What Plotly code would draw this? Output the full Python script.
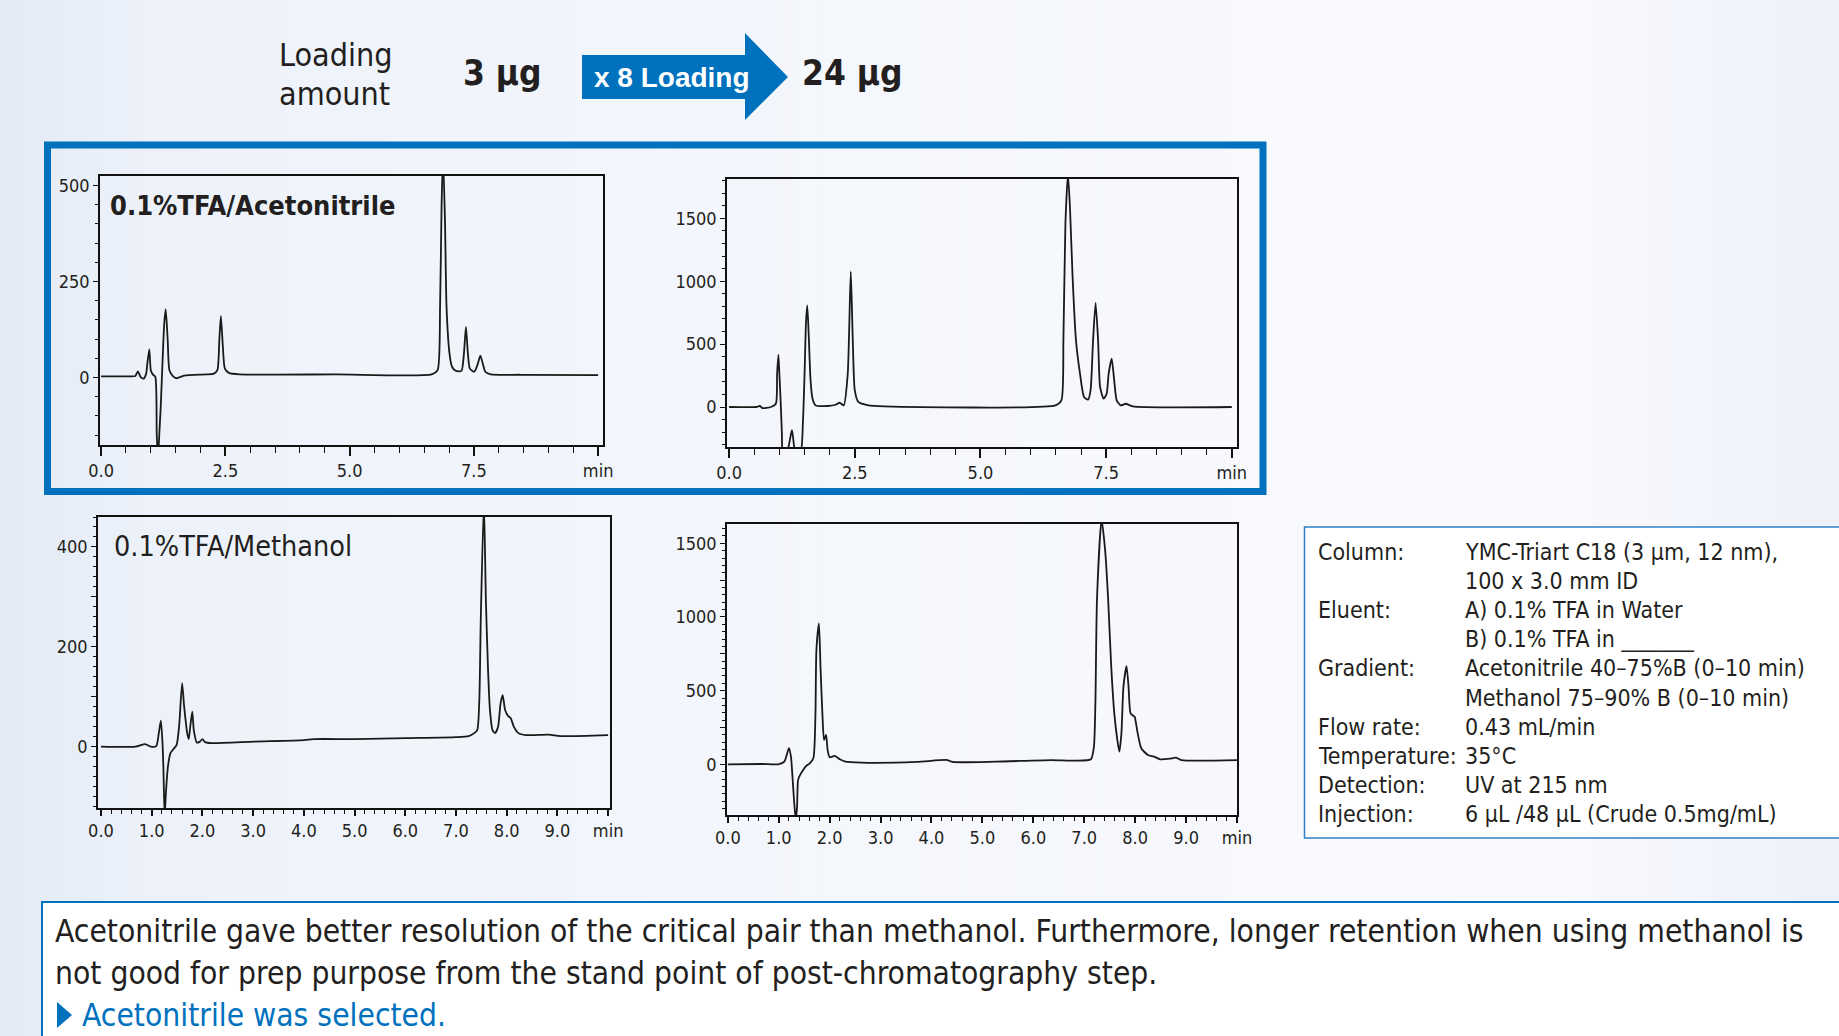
import plotly.graph_objects as go

W, H = 1839, 1036

# ---- chromatogram traces: (retention time [min], detector response) ----
acn_3ug = [
    (0.00, 3), (0.60, 3), (0.69, 4), (0.74, 16), (0.80, 0), (0.855, -3), (0.907, 10),
    (0.93, 36), (0.97, 73), (1.00, 19), (1.04, 8), (1.09, 2), (1.12, -150), (1.145, -210),
    (1.17, -150), (1.20, -76), (1.24, 54), (1.27, 140), (1.30, 178), (1.34, 97), (1.375, 19),
    (1.45, 3), (1.52, -2), (1.67, 5), (2.12, 8), (2.27, 10), (2.34, 19), (2.38, 100),
    (2.41, 160), (2.45, 80), (2.49, 23), (2.57, 12), (2.79, 8), (4.72, 8), (6.65, 8),
    (6.77, 19), (6.82, 184), (6.85, 444), (6.88, 580), (6.92, 401), (6.95, 184), (7.01, 62),
    (7.06, 28), (7.14, 17), (7.25, 17), (7.30, 62), (7.34, 132), (7.38, 62), (7.42, 23),
    (7.51, 15), (7.58, 36), (7.63, 57), (7.68, 36), (7.73, 15), (7.84, 8), (8.44, 7),
    (10.0, 6),
]
acn_24ug = [
    (0.00, 0), (0.54, 0), (0.61, 8), (0.66, -8), (0.83, 0), (0.93, 26), (0.955, 265),
    (0.98, 416), (1.00, 265), (1.03, 0), (1.05, -212), (1.07, -360), (1.15, -360),
    (1.25, -185), (1.32, -360), (1.42, -360), (1.47, -100), (1.50, 250), (1.53, 680),
    (1.555, 808), (1.585, 560), (1.62, 212), (1.66, 66), (1.72, 13), (1.96, 8), (2.12, 18),
    (2.20, 34), (2.28, 13), (2.36, 265), (2.42, 1078), (2.46, 530), (2.50, 132), (2.57, 40),
    (2.77, 13), (3.09, 5), (6.49, 13), (6.61, 53), (6.65, 530), (6.69, 1458), (6.74, 1850),
    (6.78, 1590), (6.83, 1060), (6.90, 530), (6.98, 265), (7.06, 80), (7.14, 58), (7.19, 132),
    (7.24, 530), (7.29, 827), (7.34, 530), (7.38, 159), (7.45, 66), (7.51, 106), (7.55, 265),
    (7.61, 384), (7.66, 212), (7.71, 53), (7.79, 13), (7.89, 26), (8.03, 5), (10.0, 0),
]
meoh_3ug = [
    (0.00, 0), (0.68, 0), (0.87, 5), (0.98, 0), (1.09, 1), (1.14, 27), (1.18, 52), (1.21, 13),
    (1.23, -40), (1.255, -140), (1.28, -93), (1.32, -40), (1.37, -13), (1.43, -5), (1.49, 3),
    (1.54, 40), (1.60, 127), (1.64, 80), (1.70, 27), (1.73, 15), (1.76, 40), (1.80, 70),
    (1.83, 33), (1.89, 8), (1.95, 10), (2.00, 15), (2.05, 9), (2.19, 7), (3.02, 10),
    (4.00, 13), (4.19, 15), (5.00, 15), (6.02, 17), (7.00, 19), (7.25, 21), (7.36, 27),
    (7.42, 33), (7.46, 93), (7.49, 260), (7.55, 490), (7.59, 293), (7.63, 160), (7.67, 73),
    (7.72, 33), (7.77, 27), (7.83, 40), (7.88, 87), (7.92, 103), (7.97, 73), (8.03, 61),
    (8.08, 57), (8.14, 40), (8.23, 27), (8.38, 23), (8.83, 24), (9.06, 21), (10.0, 23),
]
meoh_24ug = [
    (0.00, 0), (0.68, 2), (0.99, 0), (1.11, 18), (1.20, 109), (1.24, 52), (1.27, -84),
    (1.30, -242), (1.335, -380), (1.36, -287), (1.38, -106), (1.42, -72), (1.48, -38),
    (1.54, -11), (1.61, 7), (1.68, 41), (1.72, 323), (1.74, 776), (1.79, 957), (1.82, 663),
    (1.86, 323), (1.89, 165), (1.93, 199), (1.96, 97), (2.00, 48), (2.10, 57), (2.20, 34),
    (2.31, 18), (2.62, 11), (3.71, 16), (4.31, 29), (4.41, 16), (5.26, 18), (6.35, 29),
    (6.82, 25), (7.13, 34), (7.19, 120), (7.22, 437), (7.25, 1115), (7.34, 1660),
    (7.41, 1454), (7.47, 1115), (7.53, 663), (7.59, 346), (7.65, 165), (7.69, 86),
    (7.73, 210), (7.77, 527), (7.83, 667), (7.87, 527), (7.91, 346), (7.97, 328), (7.99, 323),
    (8.05, 210), (8.12, 109), (8.25, 63), (8.37, 52), (8.49, 34), (8.68, 38), (8.80, 45),
    (8.91, 29), (10.0, 29),
]

# ---- tick labels ----
acn_x_ticks = [0, 2.5, 5, 7.5, 10]
acn_x_text = ["0.0", "2.5", "5.0", "7.5", "min"]
meoh_x_ticks = [0, 1, 2, 3, 4, 5, 6, 7, 8, 9, 10]
meoh_x_text = ["0.0", "1.0", "2.0", "3.0", "4.0", "5.0", "6.0", "7.0", "8.0", "9.0", "min"]
acn_3ug_y_ticks = [0, 250, 500]
acn_24ug_y_ticks = [0, 500, 1000, 1500]
meoh_3ug_y_ticks = [0, 100, 200, 300, 400]
meoh_3ug_y_text = ["0", "", "200", "", "400"]
meoh_24ug_y_ticks = [0, 250, 500, 750, 1000, 1250, 1500]
meoh_24ug_y_text = ["0", "", "500", "", "1000", "", "1500"]

# ---- text ----
loading_label = ["Loading", "amount"]
loading_low = "3 µg"
loading_high = "24 µg"
loading_factor = "x 8 Loading"
title_acn = "0.1%TFA/Acetonitrile"
title_meoh = "0.1%TFA/Methanol"
info_labels = ["Column:", "", "Eluent:", "", "Gradient:", "", "Flow rate:",
               "Temperature:", "Detection:", "Injection:"]
info_values = ["YMC-Triart C18 (3 µm, 12 nm),", "100 x 3.0 mm ID", "A) 0.1% TFA in Water",
               "B) 0.1% TFA in _______", "Acetonitrile 40–75%B (0–10 min)",
               "Methanol 75–90% B (0–10 min)", "0.43 mL/min", "35°C", "UV at 215 nm",
               "6 µL /48 µL (Crude 0.5mg/mL)"]
conclusion = [
    "Acetonitrile gave better resolution of the critical pair than methanol. "
    "Furthermore, longer retention when using methanol is",
    "not good for prep purpose from the stand point of post-chromatography step.",
]
selection = "Acetonitrile was selected."

NARROW = "DejaVu Sans Condensed, DejaVu Sans, sans-serif"
WIDE = "Liberation Sans, Arial, Helvetica, sans-serif"
INK = "#231f20"
BLUE = "#0071bc"


def fx(px):
    return px / W


def fy(py):
    return 1 - py / H


fig = go.Figure()

# panel boxes in pixels: (x0, x1, y_top, y_bottom), axis ranges and ticks
panels = [
    dict(data=acn_3ug, box=(100, 603, 176, 445), xr=[-0.022, 10.098], yr=[-176, 525],
         xt=acn_x_ticks, xtt=acn_x_text, xminor=0.5, xlen=9, xminlen=6,
         yt=acn_3ug_y_ticks, ytt=[str(v) for v in acn_3ug_y_ticks], yminor=50),
    dict(data=acn_24ug, box=(727, 1237, 179, 447), xr=[-0.042, 10.103], yr=[-318, 1813],
         xt=acn_x_ticks, xtt=acn_x_text, xminor=0.5, xlen=9, xminlen=6,
         yt=acn_24ug_y_ticks, ytt=[str(v) for v in acn_24ug_y_ticks], yminor=100),
    dict(data=meoh_3ug, box=(98, 610, 517, 808), xr=[-0.059, 10.037], yr=[-123, 460],
         xt=meoh_x_ticks, xtt=meoh_x_text, xminor=0.2, xlen=6, xminlen=4,
         yt=meoh_3ug_y_ticks, ytt=meoh_3ug_y_text, yminor=20),
    dict(data=meoh_24ug, box=(727, 1237, 524, 815), xr=[-0.016, 10.0], yr=[-344, 1631],
         xt=meoh_x_ticks, xtt=meoh_x_text, xminor=0.2, xlen=6, xminlen=4,
         yt=meoh_24ug_y_ticks, ytt=meoh_24ug_y_text, yminor=50),
]

layout_axes = {}
for i, p in enumerate(panels, start=1):
    t, s = zip(*p["data"])
    suffix = "" if i == 1 else str(i)
    fig.add_trace(go.Scatter(
        x=list(t), y=list(s), mode="lines",
        line=dict(color="#1a1a1a", width=1.8, shape="spline", smoothing=0.6),
        xaxis="x" + suffix, yaxis="y" + suffix, hoverinfo="skip", showlegend=False,
    ))
    x0, x1, yt, yb = p["box"]
    tickfont = dict(family=NARROW, size=18, color=INK)
    layout_axes["xaxis" + suffix] = dict(
        domain=[fx(x0), fx(x1)], range=p["xr"], anchor="y" + suffix, automargin=False,
        showline=True, mirror=True, linecolor="#111", linewidth=1.6,
        showgrid=False, zeroline=False, ticks="outside", ticklen=p["xlen"], tickwidth=1.5,
        tickcolor="#111", tickmode="array", tickvals=p["xt"], ticktext=p["xtt"],
        tickfont=tickfont,
        minor=dict(dtick=p["xminor"], tick0=0, ticks="outside", ticklen=p["xminlen"],
                   tickwidth=1.3, tickcolor="#111", showgrid=False),
    )
    layout_axes["yaxis" + suffix] = dict(
        domain=[fy(yb), fy(yt)], range=p["yr"], anchor="x" + suffix, automargin=False,
        showline=True, mirror=True, linecolor="#111", linewidth=1.6,
        showgrid=False, zeroline=False, ticks="outside", ticklen=5, tickwidth=1.4,
        tickcolor="#111", tickmode="array", tickvals=p["yt"], ticktext=p["ytt"],
        tickfont=tickfont,
        minor=dict(dtick=p["yminor"], tick0=0, ticks="outside", ticklen=3,
                   tickwidth=1.2, tickcolor="#111", showgrid=False),
    )

# ---- background: soft horizontal gradient made of thin stripes ----
shapes = []
stops = [(0, (227, 234, 245)), (150, (237, 242, 250)), (700, (243, 246, 252)),
         (1550, (249, 250, 254)), (1839, (236, 241, 250))]
n_strips = 90
for k in range(n_strips):
    xa = W * k / n_strips
    xb = W * (k + 1) / n_strips
    xm = (xa + xb) / 2
    for (p0, c0), (p1, c1) in zip(stops[:-1], stops[1:]):
        if p0 <= xm <= p1:
            f = (xm - p0) / (p1 - p0)
            c = tuple(round(a + (b - a) * f) for a, b in zip(c0, c1))
            break
    shapes.append(dict(type="rect", xref="paper", yref="paper", layer="below",
                       x0=fx(xa), x1=fx(min(xb + 1, W)), y0=0, y1=1,
                       fillcolor="rgb(%d,%d,%d)" % c, line=dict(width=0)))

# frame around the acetonitrile runs
shapes.append(dict(type="rect", xref="paper", yref="paper", layer="below",
                   x0=fx(47.5), x1=fx(1263), y0=fy(491.5), y1=fy(145),
                   line=dict(color=BLUE, width=7), fillcolor="rgba(0,0,0,0)"))
# conditions box (open on the right edge)
shapes.append(dict(type="rect", xref="paper", yref="paper", layer="below",
                   x0=fx(1304.5), x1=fx(1842), y0=fy(838), y1=fy(527),
                   line=dict(color="#2f80c6", width=1.5), fillcolor="white"))
# conclusion box (open on the right and bottom edges)
shapes.append(dict(type="rect", xref="paper", yref="paper", layer="below",
                   x0=fx(42), x1=fx(1842), y0=fy(1039), y1=fy(902),
                   line=dict(color=BLUE, width=2), fillcolor="white"))


def path(points):
    return "M " + " L ".join("%.5f,%.5f" % (fx(a), fy(b)) for a, b in points) + " Z"


# loading arrow
shapes.append(dict(type="path", xref="paper", yref="paper", layer="below",
                   path=path([(582, 55), (745, 55), (745, 33), (788, 77), (745, 120),
                              (745, 99), (582, 99)]),
                   fillcolor=BLUE, line=dict(width=0)))
# bullet triangle before the conclusion
shapes.append(dict(type="path", xref="paper", yref="paper",
                   path=path([(57, 1002), (72, 1015), (57, 1028)]),
                   fillcolor=BLUE, line=dict(width=0)))

# ---- annotations ----
ann = []


def text(x, y, s, size, family=NARROW, color=INK, xanchor="left"):
    ann.append(dict(x=fx(x), y=fy(y), xref="paper", yref="paper", text=s, showarrow=False,
                    xanchor=xanchor, yanchor="middle", align="left",
                    font=dict(family=family, size=size, color=color)))


text(277, 55, loading_label[0], 32)
text(277, 94, loading_label[1], 32)
text(503, 73, "<b>" + loading_low + "</b>", 35, xanchor="center")
text(852, 73, "<b>" + loading_high + "</b>", 35, xanchor="center")
text(672, 77, "<b>" + loading_factor + "</b>", 28, family=WIDE, color="white",
     xanchor="center")
text(108, 206, "<b>" + title_acn + "</b>", 27)
text(112, 546, title_meoh, 28.5)

for i, (lab, val) in enumerate(zip(info_labels, info_values)):
    y = 552 + 29.1 * i
    if lab:
        text(1316, y, lab, 23)
    text(1463, y, val, 23)

text(53, 931, conclusion[0], 31.5)
text(53, 973, conclusion[1], 31.5)
text(80, 1015, selection, 31.5, color=BLUE)

fig.update_layout(
    template="none",
    width=W, height=H, autosize=False, margin=dict(l=0, r=0, t=0, b=0, pad=0),
    paper_bgcolor="#f2f5fb", plot_bgcolor="rgba(0,0,0,0)",
    shapes=shapes, annotations=ann, showlegend=False, **layout_axes,
)

fig.write_html("out.html", config={"responsive": False},
               default_width="%dpx" % W, default_height="%dpx" % H)
